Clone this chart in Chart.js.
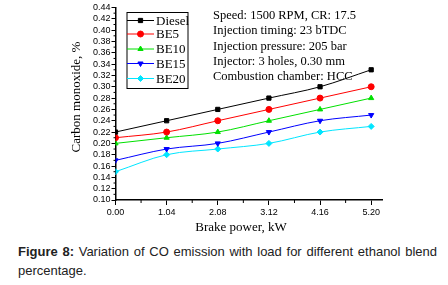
<!DOCTYPE html>
<html lang="en">
<head>
<meta charset="UTF-8">
<title>CO emission vs brake power</title>
<script src="https://cdn.jsdelivr.net/npm/chart.js"></script>
<style>
    body { margin: 0; padding: 0; background: #fff; width: 448px; height: 285px; overflow: hidden; }
    #wrap { position: absolute; left: 0; top: 0; width: 448px; height: 238px; }
    #caption {
        position: absolute; left: 18px; top: 242px; width: 419px;
        font-family: "Liberation Sans", Arial, sans-serif; font-size: 13px; line-height: 19px;
        text-align: justify; color: #222;
    }
</style>
</head>
<body>
<div id="wrap"><canvas id="coChart"></canvas></div>
<div id="caption"><b>Figure 8:</b> Variation of CO emission with load for different ethanol blend percentage.</div>

<script>
    // data
    const brakePower = [0.00, 1.04, 2.08, 3.12, 4.16, 5.20];
    const xTickLabels = ['0.00', '1.04', '2.08', '3.12', '4.16', '5.20'];
    const diesel = [0.22, 0.24, 0.26, 0.28, 0.30, 0.33];
    const be5    = [0.21, 0.22, 0.24, 0.26, 0.28, 0.30];
    const be10   = [0.20, 0.21, 0.22, 0.24, 0.26, 0.28];
    const be15   = [0.17, 0.19, 0.20, 0.22, 0.24, 0.25];
    const be20   = [0.15, 0.18, 0.19, 0.20, 0.22, 0.23];
    const seriesNames = ['Diesel', 'BE5', 'BE10', 'BE15', 'BE20'];
    const notes = [
        'Speed: 1500 RPM, CR: 17.5',
        'Injection timing: 23 bTDC',
        'Injection pressure: 205 bar',
        'Injector: 3 holes, 0.30 mm',
        'Combustion chamber: HCC'
    ];

    const colors = ['#000000', '#ff0000', '#00e000', '#0000ff', '#00e5ff'];
    const shapes = ['rect', 'circle', 'triangle', 'triangle', 'rectRot'];
    const rotations = [0, 0, 0, 180, 0];
    const allSeries = [diesel, be5, be10, be15, be20];

    const datasets = allSeries.map((vals, i) => ({
        label: seriesNames[i],
        data: vals.map((v, k) => ({ x: brakePower[k], y: v })),
        borderColor: colors[i],
        backgroundColor: colors[i],
        borderWidth: 1,
        pointStyle: shapes[i],
        rotation: rotations[i],
        pointRadius: 3,
        cubicInterpolationMode: 'monotone',
        showLine: true
    }));

    const serif = '"Liberation Serif", "Times New Roman", serif';

    // legend box, notes, axis titles, minor ticks
    const extras = {
        id: 'extras',
        afterDraw(chart) {
            const c = chart.ctx;
            const xs = chart.scales.x, ys = chart.scales.y;
            c.save();
            c.strokeStyle = '#000';
            c.lineWidth = 1;
            // minor ticks
            c.beginPath();
            for (let v = 0.52; v < 5.4; v += 1.04) {
                const px = xs.getPixelForValue(v);
                c.moveTo(px, ys.bottom); c.lineTo(px, ys.bottom + 3);
            }
            for (let v = 0.11; v < 0.445; v += 0.02) {
                const py = ys.getPixelForValue(v);
                c.moveTo(xs.left, py); c.lineTo(xs.left - 2, py);
            }
            c.stroke();

            // legend
            c.lineWidth = 1;
            c.strokeRect(127, 12.5, 61, 76);
            const rowY = [20.5, 34, 49, 63.5, 78.5];
            c.textBaseline = 'middle';
            seriesNames.forEach((name, i) => {
                const y = rowY[i];
                c.strokeStyle = colors[i];
                c.fillStyle = colors[i];
                c.beginPath(); c.moveTo(127, y); c.lineTo(154, y); c.stroke();
                Chart.helpers.drawPoint(c, {
                    pointStyle: shapes[i], rotation: rotations[i], radius: 3, borderWidth: 1
                }, 140.5, y);
                c.fillStyle = '#000';
                c.font = '13px ' + serif;
                c.fillText(name, 156, y + 1);
            });

            // notes
            c.fillStyle = '#000';
            c.font = '12.5px ' + serif;
            const noteY = [15.5, 31, 46.5, 61.5, 76.5];
            notes.forEach((t, i) => c.fillText(t, 213, noteY[i]));

            // axis titles
            c.textAlign = 'center';
            c.font = '13px ' + serif;
            c.fillText('Brake power, kW', 241, 228);
            c.translate(77, 97);
            c.rotate(-Math.PI / 2);
            c.fillText('Carbon monoxide, %', 0, 0);
            c.restore();
        }
    };

    new Chart(document.getElementById('coChart'), {
        type: 'scatter',
        data: { datasets },
        plugins: [extras],
        options: {
            responsive: true,
            maintainAspectRatio: false,
            animation: false,
            layout: { padding: { left: 0, right: 66, top: 7.5, bottom: 0 } },
            plugins: { legend: { display: false }, tooltip: { enabled: false } },
            scales: {
                x: {
                    type: 'linear',
                    min: 0,
                    max: 5.42,
                    afterBuildTicks: (s) => { s.ticks = brakePower.map(v => ({ value: v })); },
                    afterFit: (s) => { s.height = 38; },
                    ticks: {
                        callback: (v, i) => xTickLabels[i],
                        font: { family: '"Liberation Sans", Arial, sans-serif', size: 9 },
                        color: '#000',
                        padding: 2,
                        maxRotation: 0,
                        autoSkip: false
                    },
                    grid: { drawOnChartArea: false, tickLength: 5, color: '#000' },
                    border: { color: '#000', width: 1.5 }
                },
                y: {
                    min: 0.10,
                    max: 0.44,
                    afterBuildTicks: (s) => {
                        const t = [];
                        for (let k = 0; k <= 17; k++) t.push({ value: +(0.10 + k * 0.02).toFixed(2) });
                        s.ticks = t;
                    },
                    afterFit: (s) => { s.width = 115.5; },
                    ticks: {
                        callback: (v) => v.toFixed(2),
                        font: { family: '"Liberation Sans", Arial, sans-serif', size: 9 },
                        color: '#000',
                        padding: 1,
                        autoSkip: false
                    },
                    grid: { drawOnChartArea: false, tickLength: 4, color: '#000' },
                    border: { color: '#000', width: 1.5 }
                }
            }
        }
    });
</script>
</body>
</html>
